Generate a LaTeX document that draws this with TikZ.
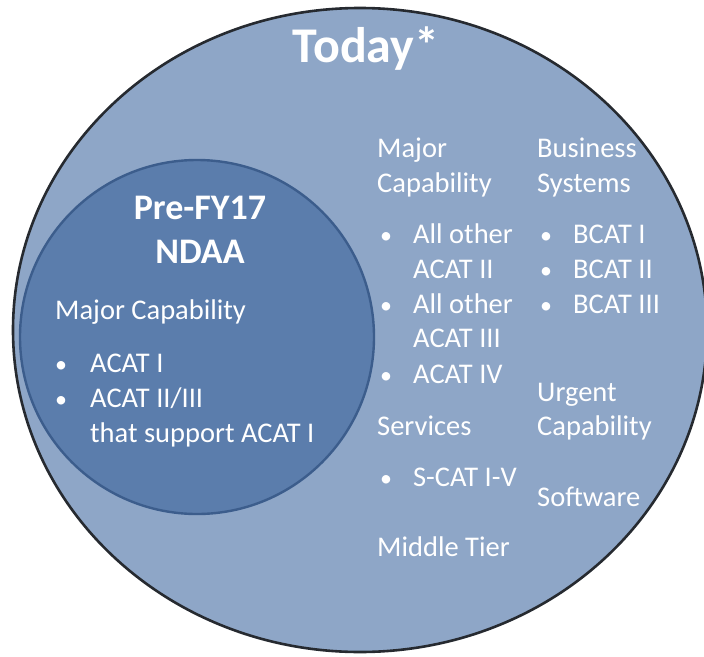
\documentclass[tikz,border=0pt]{standalone}
\usepackage{fontspec}
\setmainfont{Carlito}
\definecolor{outerfill}{HTML}{8EA6C7}
\definecolor{innerfill}{HTML}{5B7DAC}
\definecolor{inneredge}{HTML}{3C5D8C}
\definecolor{outeredge}{HTML}{262A30}
\begin{document}
\begin{tikzpicture}[x=1pt,y=-1pt,
  txt/.style={text=white, inner sep=0pt, anchor=base west,
    font=\fontsize{28.5}{34.8}\selectfont},
  bul/.style={txt, font=\fontsize{24}{30}\selectfont},
  head/.style={text=white, inner sep=0pt, anchor=base,
    font=\fontsize{36}{44}\selectfont\bfseries},
  title/.style={text=white, inner sep=0pt, anchor=base,
    font=\fontsize{50}{60}\selectfont\bfseries}]
\useasboundingbox (0,0) rectangle (704,656);
\fill[white] (0,0) rectangle (704,656);
\clip (0,0) rectangle (704,656);

% the two sets
\draw[outeredge, line width=2.6pt, fill=outerfill] (360,330) ellipse [x radius=347, y radius=322];
\draw[inneredge, line width=2.4pt, fill=innerfill] (197,337) circle [radius=177];

% outer set
\node[title] (today) at (366,62) {Today*};

% inner set
\node[head] (pre) at (200,219) {Pre-FY17};
\node[head] (ndaa) at (200,263) {NDAA};
\node[txt] (imc) at (55,319) {Major Capability};
\node[bul] (ib1) at (55,372) {•};
\node[txt] (ia1) at (90,372) {ACAT I};
\node[bul] (ib2) at (55,407) {•};
\node[txt] (ia2) at (90,407) {ACAT II/III};
\node[txt] (ia3) at (90,442) {that support ACAT I};

% first column of the outer set
\node[txt] (mc1) at (377,157) {Major};
\node[txt] (mc2) at (377,192) {Capability};
\node[bul] (mb1) at (380,243) {•};
\node[txt] (ma1) at (413,243) {All other};
\node[txt] (ma2) at (413,278) {ACAT II};
\node[bul] (mb2) at (380,313) {•};
\node[txt] (ma3) at (413,313) {All other};
\node[txt] (ma4) at (413,347) {ACAT III};
\node[bul] (mb3) at (380,383) {•};
\node[txt] (ma5) at (413,383) {ACAT IV};
\node[txt] (sv) at (377,435) {Services};
\node[bul] (sb) at (380,486) {•};
\node[txt] (sc) at (413,486) {S-CAT I-V};
\node[txt] (mt) at (377,556) {Middle Tier};

% second column of the outer set
\node[txt] (bs1) at (537,157) {Business};
\node[txt] (bs2) at (537,192) {Systems};
\node[bul] (bb1) at (540,243) {•};
\node[txt] (bc1) at (573,243) {BCAT I};
\node[bul] (bb2) at (540,278) {•};
\node[txt] (bc2) at (573,278) {BCAT II};
\node[bul] (bb3) at (540,313) {•};
\node[txt] (bc3) at (573,313) {BCAT III};
\node[txt] (uc1) at (537,401) {Urgent};
\node[txt] (uc2) at (537,435) {Capability};
\node[txt] (sw) at (537,506) {Software};
\end{tikzpicture}
\end{document}
